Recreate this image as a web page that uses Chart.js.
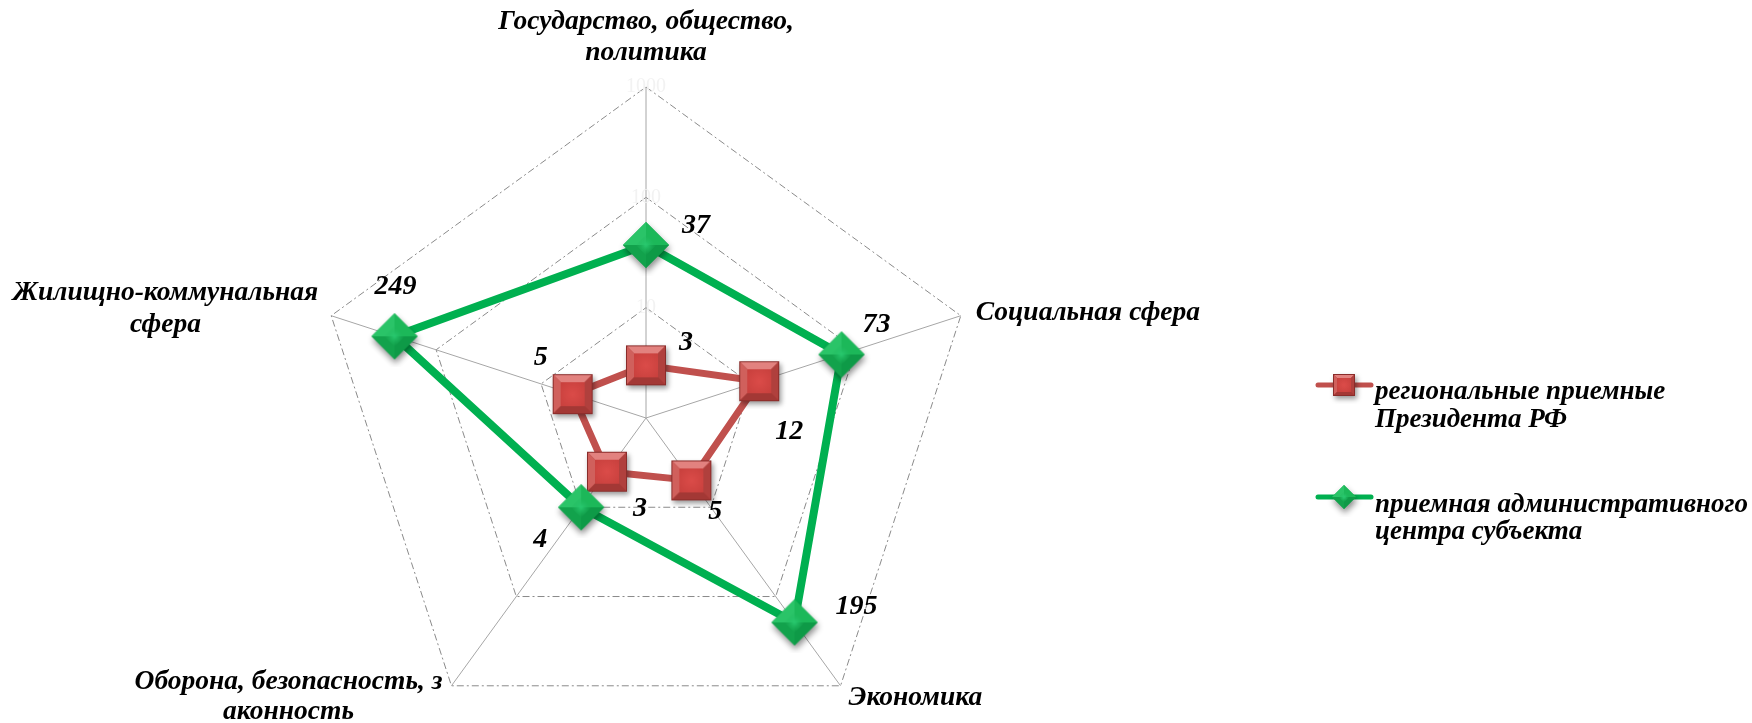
<!DOCTYPE html>
<html><head><meta charset="utf-8">
<script src="https://cdn.jsdelivr.net/npm/chart.js@4/dist/chart.umd.min.js"></script>
<style>
html,body{margin:0;padding:0;background:#fff;overflow:hidden;width:1752px;height:723px;}
#wrap{position:absolute;left:0;top:0;width:1752px;height:800px;}
</style></head><body>
<div id="wrap"><canvas id="c"></canvas></div>
<script>
// ---------- data ----------
const categories = [
  ["Государство, общество,", "политика"],
  ["Социальная сфера"],
  ["Экономика"],
  ["Оборона, безопасность, з", "аконность"],
  ["Жилищно-коммунальная", "сфера"]
];
const seriesNames = [
  ["региональные приемные", "Президента РФ"],
  ["приемная административного", "центра субъекта"]
];
const regionalValues = [3, 12, 5, 4, 5];
const adminValues = [37, 73, 195, 10, 249];
const regionalLabels = ["3", "12", "5", "3", "5"];
const adminLabels = ["37", "73", "195", "4", "249"];
const tickValues = [1, 10, 100, 1000];

// ---------- styles ----------
const FONT = "'Liberation Serif', 'Times New Roman', serif";
const RED = '#C0504D', GREEN = '#00B050';
const dataLabelOffsets = [
  [[40, -23], [30, 51], [24, 31], [33, 37], [-32, -36]],
  [[50, -19], [35, -30], [62, -16], [-41, 33], [1, -50]]
];
const catLabelStyle = [
  {align: 'center', dx: 0, dy: [-65, -34]},
  {align: 'left', dx: 15, dy: [-3]},
  {align: 'left', dx: 8, dy: [12]},
  {align: 'right', dx: -9, dy: [-4, 26]},
  {align: 'right', dx: -13, dy: [-23, 9]}
];

function poly(g, pts, col) {
  g.beginPath(); g.moveTo(pts[0][0], pts[0][1]);
  for (let k = 1; k < pts.length; k++) g.lineTo(pts[k][0], pts[k][1]);
  g.closePath(); g.fillStyle = col; g.fill();
}
function makeRedSquare(S) {
  const pad = 8, c = document.createElement('canvas');
  c.width = c.height = S + 2 * pad;
  const g = c.getContext('2d');
  g.translate(pad, pad);
  g.save();
  g.shadowColor = 'rgba(0,0,0,0.4)'; g.shadowBlur = 5; g.shadowOffsetX = 2; g.shadowOffsetY = 3;
  g.fillStyle = '#A93A37'; g.fillRect(0, 0, S, S);
  g.restore();
  const b = Math.round(S * 0.2);
  poly(g, [[0,0],[S,0],[S-b,b],[b,b]], '#E2827F');
  poly(g, [[0,0],[b,b],[b,S-b],[0,S]], '#D0605C');
  poly(g, [[S,0],[S,S],[S-b,S-b],[S-b,b]], '#B0403D');
  poly(g, [[0,S],[S,S],[S-b,S-b],[b,S-b]], '#A33835');
  const rg = g.createRadialGradient(S/2, S/2, 1, S/2, S/2, S/2);
  rg.addColorStop(0, '#DA4B48'); rg.addColorStop(1, '#C43E3B');
  g.fillStyle = rg; g.fillRect(b, b, S - 2*b, S - 2*b);
  g.strokeStyle = '#8A2C2A'; g.lineWidth = 1; g.strokeRect(0.5, 0.5, S - 1, S - 1);
  return c;
}
function makeGreenDiamond(R) {
  const pad = 8, D = 2 * R, c = document.createElement('canvas');
  c.width = c.height = D + 2 * pad;
  const g = c.getContext('2d');
  g.translate(pad, pad);
  const T = [R, 0], Rt = [D, R], B = [R, D], L = [0, R], C = [R, R];
  g.save();
  g.shadowColor = 'rgba(0,0,0,0.45)'; g.shadowBlur = 6; g.shadowOffsetX = 1; g.shadowOffsetY = 4;
  poly(g, [T, Rt, B, L], '#13A94F');
  g.restore();
  poly(g, [T, Rt, C], '#1CB859');
  poly(g, [Rt, B, C], '#0E9A47');
  poly(g, [B, L, C], '#12A24C');
  poly(g, [L, T, C], '#2AC468');
  const i = R * 0.45;
  const rg = g.createRadialGradient(R, R, 1, R, R, i);
  rg.addColorStop(0, 'rgba(40,200,110,0.9)'); rg.addColorStop(1, 'rgba(30,180,90,0)');
  poly(g, [[R, R - i], [R + i, R], [R, R + i], [R - i, R]], rg);
  return c;
}
const redMarker = makeRedSquare(40), greenMarker = makeGreenDiamond(23);
const redLegendMarker = makeRedSquare(22), greenLegendMarker = makeGreenDiamond(12);

// ---------- plugins ----------
const categoryLabelsPlugin = {
  id: 'catLabels',
  afterDraw(chart) {
    const sc = chart.scales.r, ctx = chart.ctx;
    ctx.save();
    ctx.font = 'italic bold 27.5px ' + FONT;
    ctx.fillStyle = '#000';
    ctx.textBaseline = 'middle';
    categories.forEach((lines, i) => {
      const p = sc.getPointPosition(i, sc.drawingArea);
      const st = catLabelStyle[i];
      const w = Math.max(...lines.map(t => ctx.measureText(t).width));
      lines.forEach((t, k) => {
        const y = p.y + st.dy[k];
        if (st.align === 'center') { ctx.textAlign = 'center'; ctx.fillText(t, p.x + st.dx, y); }
        else if (st.align === 'left') { ctx.textAlign = 'left'; ctx.fillText(t, p.x + st.dx, y); }
        else { ctx.textAlign = 'center'; ctx.fillText(t, p.x + st.dx - w / 2, y); }
      });
    });
    ctx.restore();
  }
};
const dataLabelsPlugin = {
  id: 'dataLabels',
  afterDatasetsDraw(chart) {
    const ctx = chart.ctx, texts = [regionalLabels, adminLabels];
    ctx.save();
    ctx.font = 'italic bold 28px ' + FONT;
    ctx.fillStyle = '#000'; ctx.textAlign = 'center'; ctx.textBaseline = 'middle';
    chart.data.datasets.forEach((ds, d) => {
      chart.getDatasetMeta(d).data.forEach((pt, i) => {
        const o = dataLabelOffsets[d][i];
        ctx.fillText(texts[d][i], pt.x + o[0], pt.y + o[1]);
      });
    });
    ctx.restore();
  }
};
const legendPlugin = {
  id: 'customLegend',
  afterDraw(chart) {
    const ctx = chart.ctx;
    const items = [
      {color: RED, width: 5, marker: redLegendMarker, y: 385, textY: [392, 420]},
      {color: GREEN, width: 5, marker: greenLegendMarker, y: 497, textY: [505, 532]}
    ];
    ctx.save();
    items.forEach((it, d) => {
      ctx.strokeStyle = it.color; ctx.lineWidth = it.width; ctx.lineCap = 'round';
      ctx.beginPath(); ctx.moveTo(1318, it.y); ctx.lineTo(1371, it.y); ctx.stroke();
      ctx.drawImage(it.marker, 1344 - it.marker.width / 2, it.y - it.marker.height / 2);
      ctx.font = 'italic bold 27px ' + FONT;
      ctx.fillStyle = '#000'; ctx.textAlign = 'left'; ctx.textBaseline = 'middle';
      seriesNames[d].forEach((t, k) => ctx.fillText(t, 1375, it.textY[k]));
    });
    ctx.restore();
  }
};

// ---------- chart ----------
new Chart(document.getElementById('c'), {
  type: 'radar',
  data: {
    labels: categories,
    datasets: [
      {label: seriesNames[0].join(' '), data: regionalValues.map(Math.log10),
       borderColor: RED, borderWidth: 7, borderJoinStyle: 'round', fill: false,
       pointStyle: redMarker, pointRadius: 20, order: 1},
      {label: seriesNames[1].join(' '), data: adminValues.map(Math.log10),
       borderColor: GREEN, borderWidth: 8, borderJoinStyle: 'round', fill: false,
       pointStyle: greenMarker, pointRadius: 22, order: 0}
    ]
  },
  options: {
    responsive: true, maintainAspectRatio: false, animation: false,
    layout: {padding: {left: 303, right: 763, top: 75, bottom: 39}},
    plugins: {legend: {display: false}, tooltip: {enabled: false}},
    scales: {
      r: {
        min: 0, max: 3,
        afterBuildTicks: s => { s.ticks = tickValues.map(v => ({value: Math.log10(v)})); },
        ticks: {display: true, color: '#f2f2f2', showLabelBackdrop: false, backdropPadding: 2,
                font: {family: FONT, size: 20}, callback: v => String(Math.round(Math.pow(10, v)))},
        grid: {color: '#8a8a8a', lineWidth: 1},
        border: {dash: [7, 3, 2, 3]},
        angleLines: {color: '#a6a6a6', lineWidth: 1},
        pointLabels: {display: false}
      }
    }
  },
  plugins: [categoryLabelsPlugin, dataLabelsPlugin, legendPlugin]
});
</script>
</body></html>
